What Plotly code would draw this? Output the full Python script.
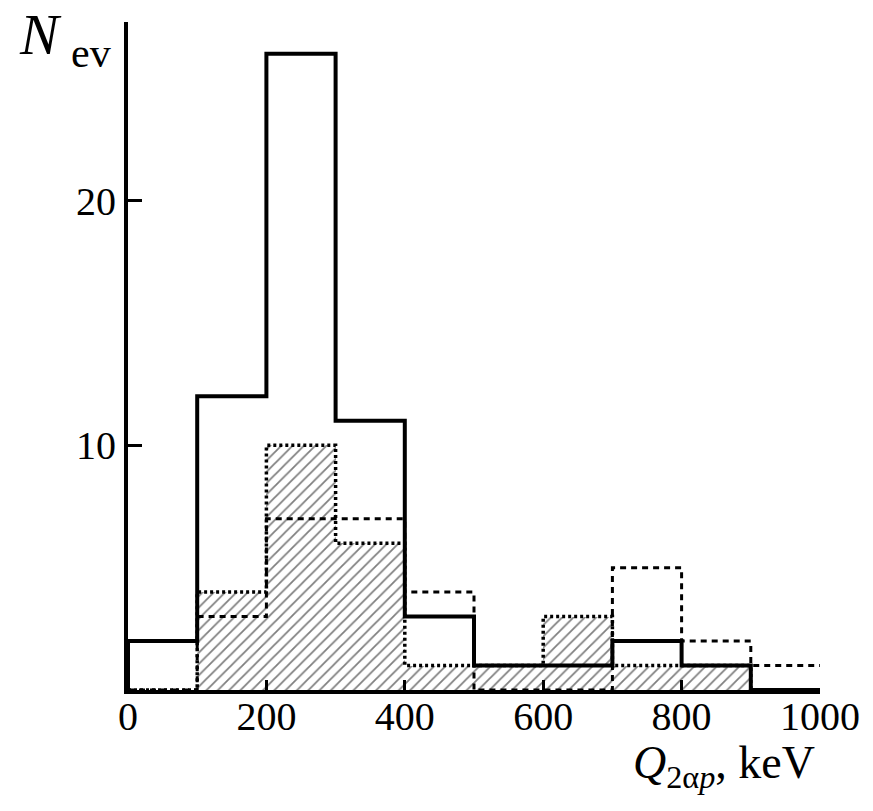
import plotly.graph_objects as go

bin_edges = [0, 100, 200, 300, 400, 500, 600, 700, 800, 900, 1000]
total_counts = [2, 12, 26, 11, 3, 1, 1, 2, 1, 0]
dotted_counts = [0, 4, 10, 6, 1, 1, 3, 1, 1, 0]
dashed_counts = [0, 3, 7, 7, 4, 0, 0, 5, 2, 1]
x_ticks = [0, 200, 400, 600, 800, 1000]
y_ticks = [10, 20]

centers = [(a + b) / 2 for a, b in zip(bin_edges[:-1], bin_edges[1:])]


def step(vals):
    xs = list(bin_edges)
    ys = list(vals) + [vals[-1]]
    return xs, ys


fig = go.Figure()

fig.add_trace(go.Bar(
    x=centers, y=dotted_counts, width=100,
    marker=dict(color="rgba(0,0,0,0)", line=dict(width=0),
                pattern=dict(shape="/", fgcolor="black", bgcolor="rgba(0,0,0,0)",
                             size=8, solidity=0.22)),
    showlegend=False, hoverinfo="skip"))

xs, ys = step(dashed_counts)
fig.add_trace(go.Scatter(x=xs, y=ys, mode="lines", line_shape="hv",
                         line=dict(color="black", width=3, dash="6px,5px"),
                         showlegend=False))
xs, ys = step(dotted_counts)
fig.add_trace(go.Scatter(x=xs, y=ys, mode="lines", line_shape="hv",
                         line=dict(color="black", width=3.5, dash="3px,3px"),
                         showlegend=False))
xs, ys = step(total_counts)
fig.add_trace(go.Scatter(x=[0] + xs, y=[0] + ys, mode="lines", line_shape="hv",
                         line=dict(color="black", width=4),
                         showlegend=False))

font_tick = dict(family="Liberation Serif", size=40, color="black")

fig.update_layout(
    width=873, height=811,
    margin=dict(l=128, r=53, t=22, b=121),
    plot_bgcolor="white", paper_bgcolor="white",
    bargap=0,
    xaxis=dict(range=[0, 1000], tickvals=x_ticks, ticks="inside", ticklen=10,
               tickwidth=3, tickcolor="black", showline=True, linewidth=4,
               linecolor="black", showgrid=False, zeroline=False,
               tickfont=font_tick, automargin=False, ticklabelstandoff=-12),
    yaxis=dict(range=[0, 27.3], tickvals=y_ticks, ticks="inside", ticklen=14,
               tickwidth=3, tickcolor="black", showline=True, linewidth=4,
               linecolor="black", showgrid=False, zeroline=False,
               tickfont=font_tick, automargin=False),
    annotations=[
        dict(text="<i>N</i>", xref="paper", yref="paper", x=-0.127, y=0.981,
             xanchor="center", yanchor="middle", showarrow=False,
             font=dict(family="Liberation Serif", size=58, color="black")),
        dict(text="ev", xref="paper", yref="paper", x=-0.053, y=0.953,
             xanchor="center", yanchor="middle", showarrow=False,
             font=dict(family="Liberation Serif", size=42, color="black")),
        dict(text="<i>Q</i><sub>2α<i>p</i></sub>, keV", xref="paper", yref="paper",
             x=0.995, y=-0.068, xanchor="right", yanchor="top", showarrow=False,
             font=dict(family="Liberation Serif", size=46, color="black")),
    ],
)

fig.write_html("out.html")
